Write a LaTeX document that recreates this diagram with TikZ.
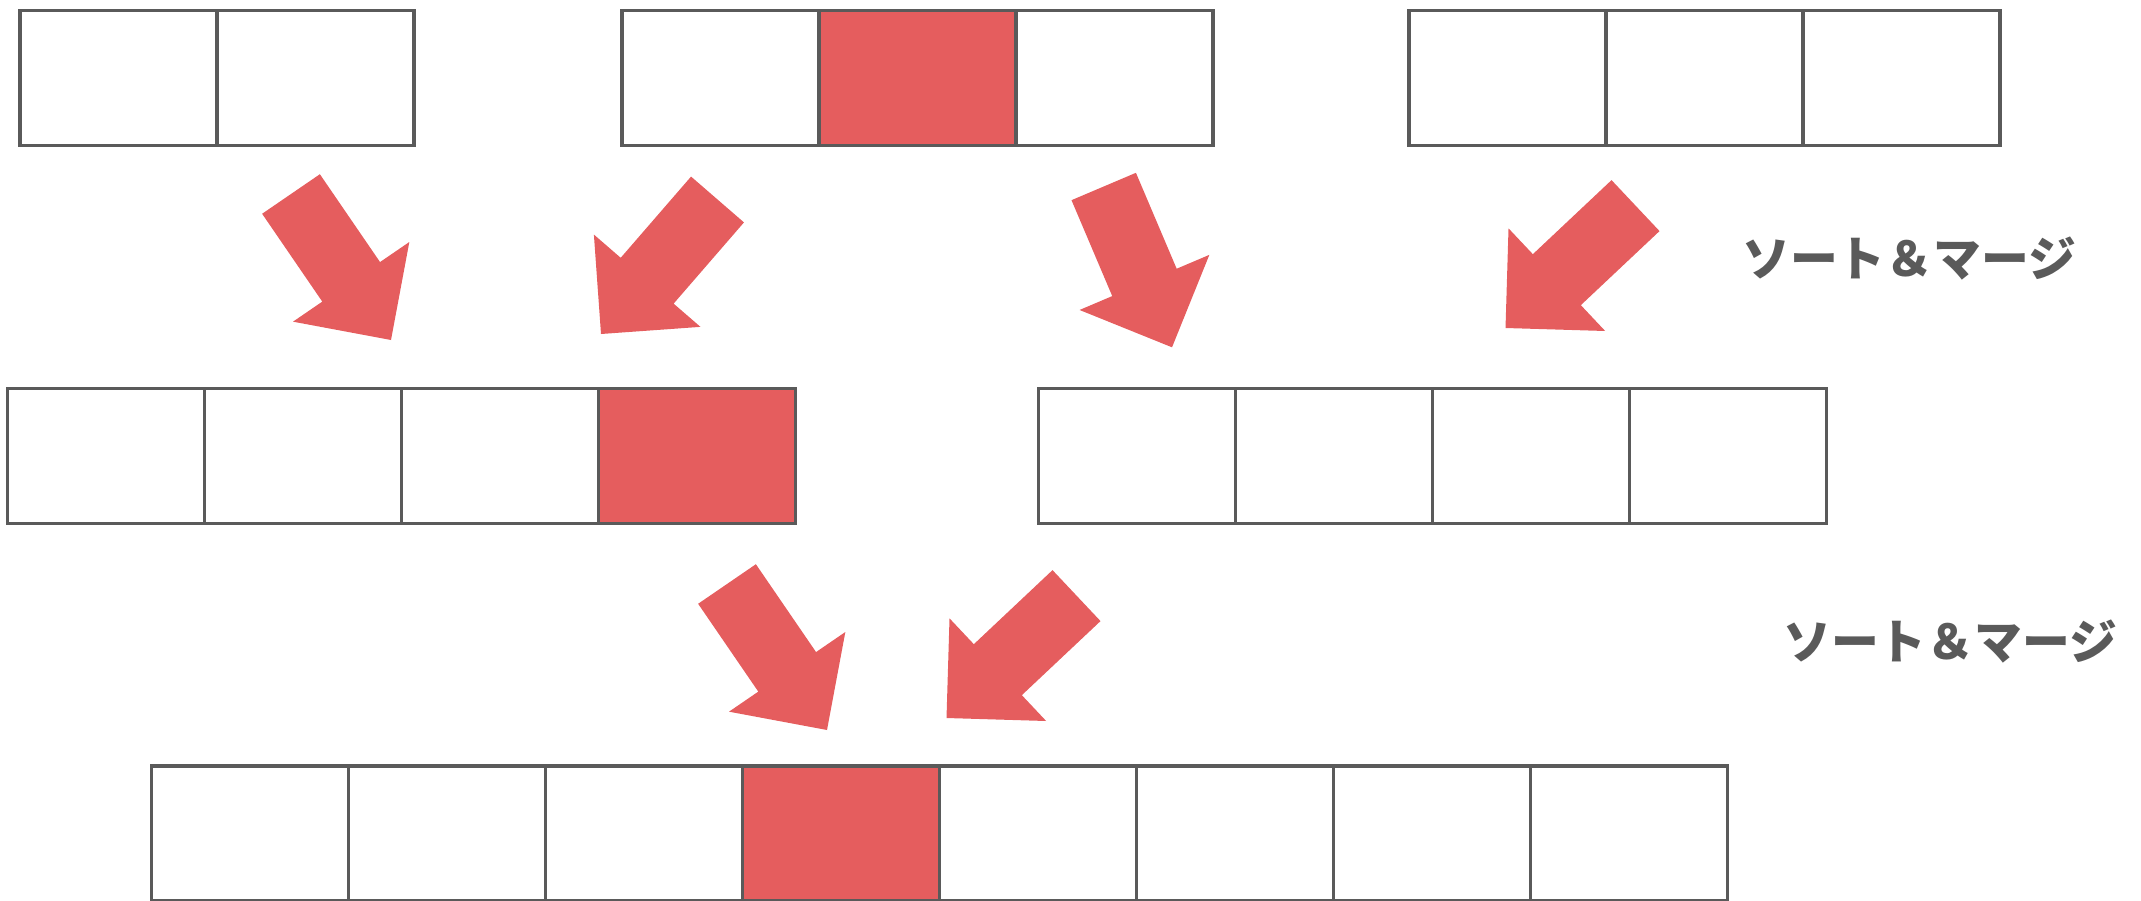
\documentclass[tikz,border=0pt]{standalone}
\usepackage{fontspec}
\newfontfamily\jpfont{Noto Sans CJK JP}
\usepackage{xcolor}
\usepackage{tikz}
\usetikzlibrary{calc}

\definecolor{cellline}{HTML}{5A5A5A}
\definecolor{markred}{HTML}{E55D5E}

% fat block arrow from #1 (tail) to #2 (tip)
\newcommand{\fatarrow}[2]{%
  \coordinate (hb) at ($(#2)!7.05mm!(#1)$);
  \fill[bigarr] ($(#1)!3.5mm!90:(#2)$) -- ($(hb)!3.5mm!90:(#2)$) -- ($(hb)!7.05mm!90:(#2)$) -- (#2)
    -- ($(hb)!7.05mm!-90:(#2)$) -- ($(hb)!3.5mm!-90:(#2)$) -- ($(#1)!3.5mm!-90:(#2)$) -- cycle;}

\begin{document}
\begin{tikzpicture}[x=0.1mm,y=-0.1mm,
          cell/.style={draw=cellline,line width=0.33mm,minimum width=19.7mm,minimum height=13.5mm,
                       inner sep=0pt,outer sep=0pt,anchor=north west},
          hit/.style={cell,fill=markred},
          bigarr/.style={fill=markred},
          lbl/.style={text=cellline,font=\jpfont\bfseries\fontsize{13.6pt}{16pt}\selectfont}]
        \useasboundingbox (0,0) rectangle (2141,900);
        % top row
        \foreach \k in {1,2} \node[cell] (a\k) at ({20+197*(\k-1)},10.5) {};
        \foreach \k in {1,3} \node[cell] (b\k) at ({622+197*(\k-1)},10.5) {};
        \node[hit] (b2) at (819,10.5) {};
        \foreach \k in {1,2,3} \node[cell] (c\k) at ({1409+197*(\k-1)},10.5) {};
        % middle row
        \foreach \k in {1,2,3} \node[cell] (d\k) at ({7.5+197*(\k-1)},388.3) {};
        \node[hit] (d4) at (598.5,388.3) {};
        \foreach \k in {1,2,3,4} \node[cell] (e\k) at ({1038.5+197*(\k-1)},388.3) {};
        % bottom row
        \foreach \k in {1,2,3,5,6,7,8} \node[cell] (f\k) at ({151.5+197*(\k-1)},766) {};
        \node[hit] (f4) at (742.5,766) {};
        \node[lbl] (sm1) at (1909,259) {ソート＆マージ};
        \node[lbl] (sm2) at (1950,642) {ソート＆マージ};
        \coordinate (s1) at (291,194);     \coordinate (t1) at (391,340);
        \coordinate (s2) at (717.5,199.5); \coordinate (t2) at (601,334);
        \coordinate (s3) at (1103.7,186.5); \coordinate (t3) at (1172,347.3);
        \coordinate (s4) at (1635.5,205.6); \coordinate (t4) at (1505.5,328);
        \coordinate (s5) at (727,584);     \coordinate (t5) at (827,730);
        \coordinate (s6) at (1076.5,595.6); \coordinate (t6) at (946.5,718);
        \foreach \n in {1,...,6} {\fatarrow{s\n}{t\n}}
      \end{tikzpicture}
\end{document}
